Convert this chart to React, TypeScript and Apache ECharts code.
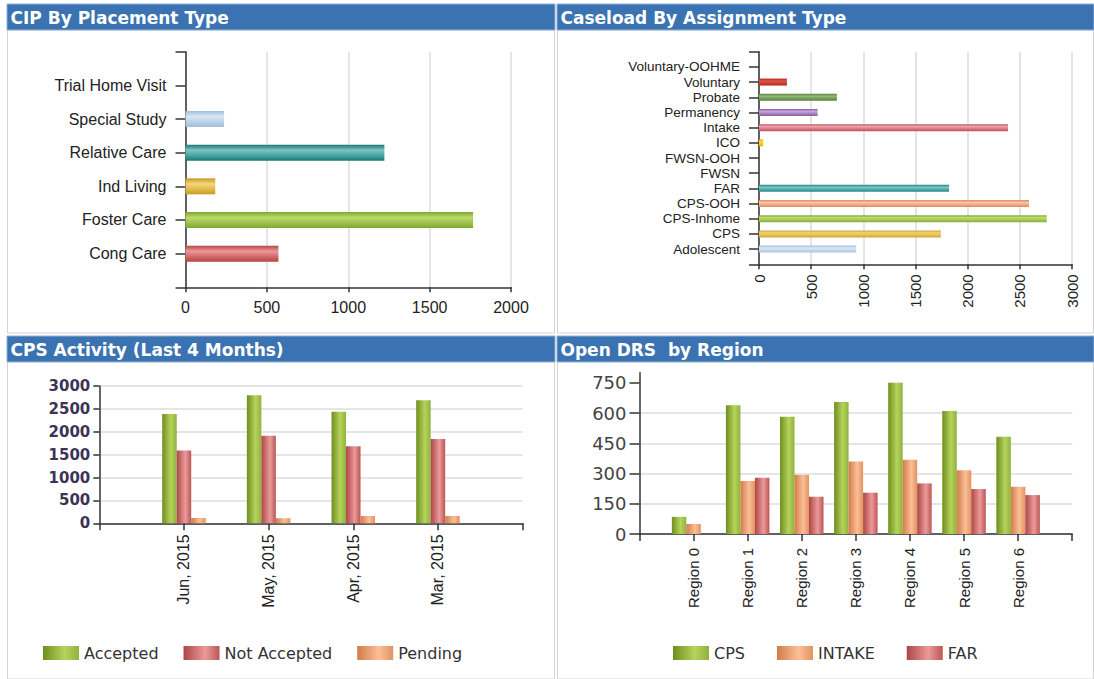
import React, { useEffect, useRef } from 'react';
import * as echarts from 'echarts';

// ---------- data ----------
const placementTypes = ['Trial Home Visit', 'Special Study', 'Relative Care', 'Ind Living', 'Foster Care', 'Cong Care'];
const placementCounts = [0, 237, 1222, 183, 1767, 571];

const assignmentTypes = [
  'Voluntary-OOHME', 'Voluntary', 'Probate', 'Permanency', 'Intake', 'ICO', 'FWSN-OOH',
  'FWSN', 'FAR', 'CPS-OOH', 'CPS-Inhome', 'CPS', 'Adolescent',
];
const assignmentCounts = [0, 268, 747, 562, 2387, 40, 0, 0, 1822, 2588, 2758, 1743, 932];

const activityMonths = ['Jun, 2015', 'May, 2015', 'Apr, 2015', 'Mar, 2015'];
const acceptedCounts = [2389, 2797, 2440, 2687];
const notAcceptedCounts = [1588, 1915, 1682, 1843];
const pendingCounts = [116, 112, 160, 160];

const regions = ['Region 0', 'Region 1', 'Region 2', 'Region 3', 'Region 4', 'Region 5', 'Region 6'];
const drsCps = [85, 639, 582, 655, 750, 610, 482];
const drsIntake = [50, 263, 293, 359, 368, 316, 234];
const drsFar = [0, 279, 185, 205, 251, 223, 193];
const drsYTicks = [0, 150, 300, 450, 600, 750];

const panelTitles = ['CIP By Placement Type', 'Caseload By Assignment Type', 'CPS Activity (Last 4 Months)', 'Open DRS  by Region'];

// ---------- styles ----------
// [dark edge, light, base]
const placementPalette = [
  ['#d0d0d0', '#e0e0e0', '#d0d0d0'],
  ['#9fbedd', '#d9e7f4', '#b4cde6'],
  ['#1f7676', '#7cc4c4', '#3c9c9c'],
  ['#c99a22', '#f3d676', '#dcb444'],
  ['#7fa630', '#bcdb6c', '#98bd48'],
  ['#b54646', '#eb9898', '#cc6262'],
];
const assignmentPalette = [
  ['#cccccc', '#dddddd', '#cccccc'],
  ['#b82c1e', '#d8564a', '#c63a2c'],
  ['#5a8240', '#94b97a', '#6f9752'],
  ['#8a5aa4', '#c7a6d8', '#a07ab8'],
  ['#c4505e', '#eca4ac', '#d26c78'],
  ['#f0b800', '#ffd640', '#f6c400'],
  ['#cccccc', '#dddddd', '#cccccc'],
  ['#cccccc', '#dddddd', '#cccccc'],
  ['#2a8686', '#7cc6c6', '#40a0a0'],
  ['#df8a5c', '#fbc6a6', '#eba07a'],
  ['#86ac34', '#bedc72', '#9cc24a'],
  ['#d2a634', '#f2d472', '#e0b848'],
  ['#a6c2de', '#dae8f4', '#bcd2e8'],
];

const FONT_SANS = '"Liberation Sans", Arial, sans-serif';
const FONT_DEJAVU = '"DejaVu Sans", Verdana, sans-serif';

const plain = (v: number) => String(v);

function hbarGrad(p: string[]) {
  return new echarts.graphic.LinearGradient(0, 0, 0, 1, [
    { offset: 0, color: p[0] },
    { offset: 0.35, color: p[1] },
    { offset: 0.75, color: p[2] },
    { offset: 1, color: p[0] },
  ]);
}
function vbarGrad(dark: string, light: string, base: string) {
  return new echarts.graphic.LinearGradient(0, 0, 1, 0, [
    { offset: 0, color: dark },
    { offset: 0.6, color: light },
    { offset: 1, color: base },
  ]);
}

const greenGrad = () => vbarGrad('#6e8e1e', '#b6d35c', '#8fb23e');
const redGrad = () => vbarGrad('#ad4646', '#ec9a9a', '#bb5656');
const orangeGrad = () => vbarGrad('#d27c48', '#fbbf98', '#e2925e');

function buildOption() {
  const placeCats = ['', ...[...placementTypes].reverse(), ' '];
  const placeData: any[] = ['-'];
  [...placementCounts].reverse().forEach((v, i) => {
    const idx = placementCounts.length - 1 - i;
    placeData.push({ value: v, itemStyle: { color: hbarGrad(placementPalette[idx]) } });
  });
  placeData.push('-');

  const assignCats = ['', ...[...assignmentTypes].reverse(), ' '];
  const assignData: any[] = ['-'];
  [...assignmentCounts].reverse().forEach((v, i) => {
    const idx = assignmentCounts.length - 1 - i;
    assignData.push({ value: v, itemStyle: { color: hbarGrad(assignmentPalette[idx]) } });
  });
  assignData.push('-');

  const monthCats = ['', ...activityMonths, ' '];
  const regionCats = ['', ...regions, ' '];
  const pad = (arr: number[]) => ['-', ...arr, '-'];

  const axisLine = { show: true, lineStyle: { color: '#333', width: 1.5 } };
  const tick = (len: number) => ({ show: true, length: len, interval: 0, lineStyle: { color: '#333', width: 1.5 } });
  const split = { show: true, lineStyle: { color: '#dcdcdc', width: 1.5 } };

  const panels = [
    { x: 7, y: 4, w: 548, title: panelTitles[0], bodyY: 30, bodyH: 303 },
    { x: 557, y: 4, w: 537, title: panelTitles[1], bodyY: 30, bodyH: 303 },
    { x: 7, y: 336, w: 548, title: panelTitles[2], bodyY: 361, bodyH: 318 },
    { x: 557, y: 336, w: 537, title: panelTitles[3], bodyY: 361, bodyH: 318 },
  ];
  const graphic: any[] = [];
  panels.forEach((p) => {
    graphic.push({
      type: 'rect', z: -10, silent: true,
      shape: { x: p.x + 0.5, y: p.bodyY, width: p.w - 1, height: p.bodyH },
      style: { fill: '#fff', stroke: '#d4d4d4', lineWidth: 1 },
    });
    graphic.push({
      type: 'rect', z: -5, silent: true,
      shape: { x: p.x, y: p.y, width: p.w, height: 26 },
      style: { fill: '#3a72b2', stroke: '#8fb1d8', lineWidth: 1 },
    });
    graphic.push({
      type: 'text', z: -4, silent: true,
      x: p.x + 3.5, y: p.y + 13.5,
      style: {
        text: p.title, fill: '#ffffff', fontSize: 17, fontWeight: 'bold',
        fontFamily: FONT_DEJAVU, verticalAlign: 'middle', align: 'left',
      },
    });
  });

  return {
    animation: false,
    backgroundColor: '#ffffff',
    graphic,
    grid: [
      { left: 185.5, top: 51.7, width: 325.5, height: 235.6, containLabel: false, outerBoundsMode: 'none' },
      { left: 759, top: 51.7, width: 313, height: 212.6, containLabel: false, outerBoundsMode: 'none' },
      { left: 99.3, top: 386, width: 423.3, height: 137.3, containLabel: false, outerBoundsMode: 'none' },
      { left: 639.5, top: 372.7, width: 432.7, height: 161.3, containLabel: false, outerBoundsMode: 'none' },
    ],
    xAxis: [
      {
        gridIndex: 0, type: 'value', min: 0, max: 2000, interval: 500,
        axisLine, axisTick: tick(5), splitLine: split,
        axisLabel: { margin: 12, fontSize: 16, color: '#222', fontFamily: FONT_SANS, formatter: plain },
      },
      {
        gridIndex: 1, type: 'value', min: 0, max: 3000, interval: 500,
        axisLine, axisTick: tick(5), splitLine: split,
        axisLabel: { margin: 10, rotate: 90, fontSize: 15, color: '#222', fontFamily: FONT_SANS, formatter: plain },
      },
      {
        gridIndex: 2, type: 'category', data: monthCats, boundaryGap: false,
        axisLine, axisTick: tick(7), splitLine: { show: false },
        axisLabel: { interval: 0, margin: 11, rotate: 90, fontSize: 16, color: '#222', fontFamily: FONT_SANS },
      },
      {
        gridIndex: 3, type: 'category', data: regionCats, boundaryGap: false,
        axisLine, axisTick: tick(7), splitLine: { show: false },
        axisLabel: { interval: 0, margin: 14, rotate: 90, fontSize: 15, color: '#222', fontFamily: FONT_SANS },
      },
    ],
    yAxis: [
      {
        gridIndex: 0, type: 'category', data: placeCats, boundaryGap: false,
        axisLine, axisTick: tick(10), splitLine: { show: false },
        axisLabel: { interval: 0, margin: 19, fontSize: 16, color: '#222', fontFamily: FONT_SANS },
      },
      {
        gridIndex: 1, type: 'category', data: assignCats, boundaryGap: false,
        axisLine, axisTick: tick(10), splitLine: { show: false },
        axisLabel: { interval: 0, margin: 19, fontSize: 13.5, lineHeight: 13, color: '#222', fontFamily: FONT_SANS },
      },
      {
        gridIndex: 2, type: 'value', min: 0, max: 3000, interval: 500,
        axisLine, axisTick: tick(6), splitLine: split,
        axisLabel: { margin: 9, fontSize: 15, fontWeight: 'bold', color: '#3d3358', fontFamily: FONT_DEJAVU, formatter: plain },
      },
      {
        gridIndex: 3, type: 'value', min: 0, max: 800, interval: 150,
        axisLine,
        axisTick: { show: true, length: 10, customValues: drsYTicks, lineStyle: { color: '#333', width: 1.5 } },
        splitLine: { show: true, showMaxLine: false, lineStyle: { color: '#dcdcdc', width: 1.5 } },
        axisLabel: { margin: 13, fontSize: 18, color: '#444', fontFamily: FONT_DEJAVU, customValues: drsYTicks, formatter: plain },
      },
    ],
    legend: [
      {
        data: ['Accepted', 'Not Accepted', 'Pending'],
        left: 38, top: 640, itemWidth: 36, itemHeight: 14, itemGap: 25, icon: 'rect',
        textStyle: { fontSize: 16, color: '#333', fontFamily: FONT_DEJAVU },
        selectedMode: false,
      },
      {
        data: ['CPS', 'INTAKE', 'FAR'],
        left: 668, top: 640, itemWidth: 36, itemHeight: 14, itemGap: 32, icon: 'rect',
        textStyle: { fontSize: 16, color: '#333', fontFamily: FONT_DEJAVU },
        selectedMode: false,
      },
    ],
    series: [
      { name: 'CIP', type: 'bar', xAxisIndex: 0, yAxisIndex: 0, barWidth: 16, data: placeData },
      { name: 'Caseload', type: 'bar', xAxisIndex: 1, yAxisIndex: 1, barWidth: 7, data: assignData },
      { name: 'Accepted', type: 'bar', xAxisIndex: 2, yAxisIndex: 2, barWidth: 14.5, barGap: '0%', data: pad(acceptedCounts), itemStyle: { color: greenGrad() } },
      { name: 'Not Accepted', type: 'bar', xAxisIndex: 2, yAxisIndex: 2, barWidth: 14.5, barGap: '0%', data: pad(notAcceptedCounts), itemStyle: { color: redGrad() } },
      { name: 'Pending', type: 'bar', xAxisIndex: 2, yAxisIndex: 2, barWidth: 14.5, barGap: '0%', data: pad(pendingCounts), itemStyle: { color: orangeGrad() } },
      { name: 'CPS', type: 'bar', xAxisIndex: 3, yAxisIndex: 3, barWidth: 14.5, barGap: '0%', data: pad(drsCps), itemStyle: { color: greenGrad() } },
      { name: 'INTAKE', type: 'bar', xAxisIndex: 3, yAxisIndex: 3, barWidth: 14.5, barGap: '0%', data: pad(drsIntake), itemStyle: { color: orangeGrad() } },
      { name: 'FAR', type: 'bar', xAxisIndex: 3, yAxisIndex: 3, barWidth: 14.5, barGap: '0%', data: pad(drsFar), itemStyle: { color: redGrad() } },
    ],
  };
}

export default function App() {
  const ref = useRef<HTMLDivElement>(null);
  useEffect(() => {
    if (!ref.current) return;
    const chart = echarts.init(ref.current, null, { renderer: 'svg' });
    chart.setOption(buildOption() as any);
    return () => {
      chart.dispose();
    };
  }, []);
  return (
    <div
      ref={ref}
      style={{ position: 'absolute', left: 0, top: 0, width: 1094, height: 679, background: '#ffffff' }}
    />
  );
}
